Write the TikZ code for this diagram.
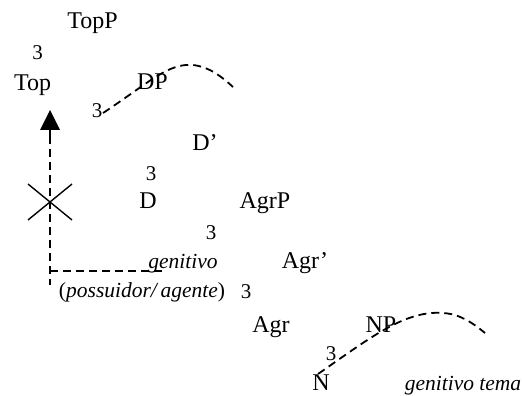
\documentclass[tikz,border=0pt]{standalone}
\usepackage{fontspec}
\setmainfont{Liberation Serif}
\begin{document}
\begin{tikzpicture}[x=1pt,y=1pt,
  lbl/.style={inner sep=0pt, anchor=base, font=\fontsize{24}{28}\selectfont},
  num/.style={inner sep=0pt, anchor=base, font=\fontsize{21}{25}\selectfont},
  itl/.style={inner sep=0pt, anchor=base, font=\fontsize{21.5}{25}\selectfont\itshape},
  dsh/.style={dash pattern=on 8pt off 5pt, line width=1.8pt},
  crossline/.style={line width=1.4pt},
]
\useasboundingbox (0,0) rectangle (523,-396);

% labels
\node[lbl] (topp) at (92.5,-29) {TopP};
\node[num] (b1) at (37.5,-60) {3};
\node[lbl] (top) at (32.5,-91) {Top};
\node[lbl] (dp) at (152.5,-90) {DP};
\node[num] (b2) at (97,-118) {3};
\node[lbl] (dbar) at (205,-150) {D’};
\node[num] (b3) at (151,-180) {3};
\node[lbl] (d) at (148,-208) {D};
\node[lbl] (agrp) at (265,-208) {AgrP};
\node[num] (b4) at (211,-240) {3};
\node[itl] (gen) at (183,-268) {genitivo};
\node[lbl] (agrbar) at (305,-269) {Agr’};
\node[itl] (poss) at (142,-297) {{\upshape(}possuidor/\,agente{\upshape)}};
\node[num] (b5) at (246,-298) {3};
\node[lbl] (agr) at (271,-332) {Agr};
\node[lbl] (np) at (381,-332) {NP};
\node[num] (b6) at (331,-360) {3};
\node[lbl] (n) at (321,-390) {N};
\node[itl] (gt) at (463,-390) {genitivo tema};

% dashed curves
\coordinate (c1s) at (103,-113);
\coordinate (c1p) at (193,-65);
\coordinate (c1e) at (233,-87);
\draw[dsh] (c1s) .. controls (150,-82) and (168,-63) .. (c1p)
               .. controls (210,-67) and (222,-77) .. (c1e);

\coordinate (c2s) at (318,-374);
\coordinate (c2p) at (443,-313);
\coordinate (c2e) at (485,-333);
\draw[dsh] (c2s) .. controls (370,-338) and (405,-310) .. (c2p)
               .. controls (460,-314) and (473,-323) .. (c2e);

% movement arrow
\coordinate (tip) at (50,-110);
\coordinate (abase) at (50,-130);
\coordinate (stem) at (50,-136);
\coordinate (corner) at (50,-271);
\coordinate (vbot) at (50,-285);
\coordinate (hend) at (162,-271);
\fill (tip) -- ++(-10,-20) -- ++(20,0) -- cycle;
\draw[line width=1.8pt] (abase) -- (stem);
\draw[dsh] (stem) -- (vbot);
\draw[dsh] (corner) -- (hend);

% cross
\coordinate (xc) at (50,-202);
\draw[crossline] (xc) ++(-22,18) -- ++(44,-36);
\draw[crossline] (xc) ++(-22,-18) -- ++(44,36);
\end{tikzpicture}
\end{document}
